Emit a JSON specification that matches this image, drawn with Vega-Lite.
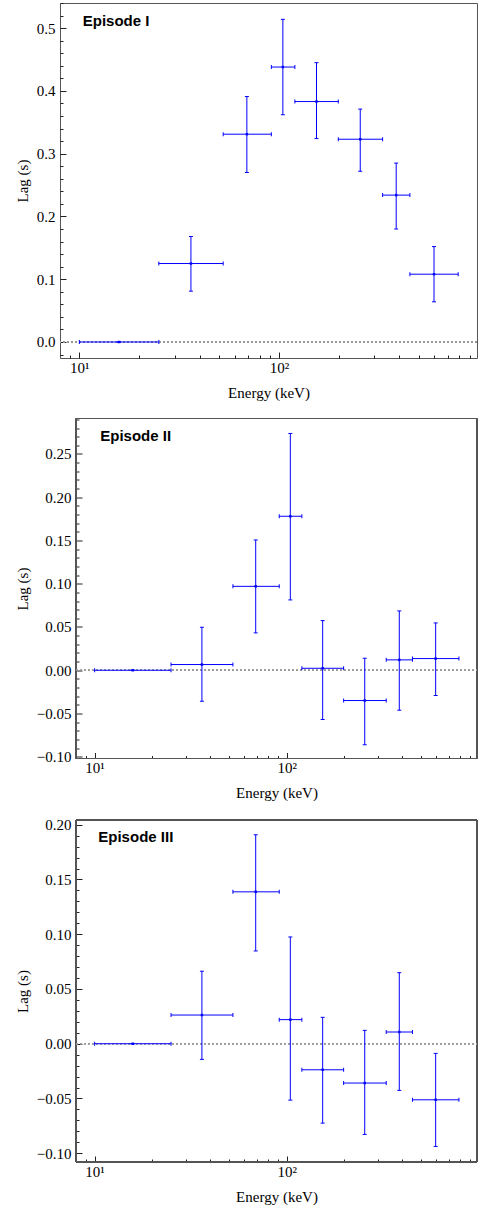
{
  "$schema": "https://vega.github.io/schema/vega-lite/v6.json",
  "padding": {"left": 14, "top": 2, "right": 3, "bottom": 8},
  "background": "white",
  "spacing": 16.5,
  "datasets": {
    "ep1": [
      {"E": 15.8, "Elo": 10, "Ehi": 25, "lag": 0, "lo": 0, "hi": 0},
      {"E": 36.2, "Elo": 25, "Ehi": 52.5, "lag": 0.125, "lo": 0.081, "hi": 0.168},
      {"E": 69, "Elo": 52.5, "Ehi": 91.5, "lag": 0.331, "lo": 0.27, "hi": 0.391},
      {"E": 104.5, "Elo": 91.5, "Ehi": 120, "lag": 0.438, "lo": 0.362, "hi": 0.514},
      {"E": 154, "Elo": 120, "Ehi": 198, "lag": 0.383, "lo": 0.324, "hi": 0.445},
      {"E": 255, "Elo": 198, "Ehi": 330, "lag": 0.323, "lo": 0.272, "hi": 0.371},
      {"E": 386, "Elo": 330, "Ehi": 452, "lag": 0.234, "lo": 0.18, "hi": 0.285},
      {"E": 597, "Elo": 452, "Ehi": 789, "lag": 0.108, "lo": 0.064, "hi": 0.152}
    ],
    "ep2": [
      {"E": 15.8, "Elo": 10, "Ehi": 25, "lag": 0, "lo": 0, "hi": 0},
      {"E": 36.2, "Elo": 25, "Ehi": 52.5, "lag": 0.0066, "lo": -0.0358, "hi": 0.0497},
      {"E": 69, "Elo": 52.5, "Ehi": 91.5, "lag": 0.097, "lo": 0.0432, "hi": 0.1506},
      {"E": 104.5, "Elo": 91.5, "Ehi": 120, "lag": 0.178, "lo": 0.0813, "hi": 0.2737},
      {"E": 154, "Elo": 120, "Ehi": 198, "lag": 0.0023, "lo": -0.0569, "hi": 0.0574},
      {"E": 255, "Elo": 198, "Ehi": 330, "lag": -0.035, "lo": -0.0861, "hi": 0.0139},
      {"E": 386, "Elo": 330, "Ehi": 452, "lag": 0.012, "lo": -0.0462, "hi": 0.0686},
      {"E": 597, "Elo": 452, "Ehi": 789, "lag": 0.0135, "lo": -0.0292, "hi": 0.0547}
    ],
    "ep3": [
      {"E": 15.8, "Elo": 10, "Ehi": 25, "lag": 0, "lo": 0, "hi": 0},
      {"E": 36.2, "Elo": 25, "Ehi": 52.5, "lag": 0.0262, "lo": -0.0143, "hi": 0.0662},
      {"E": 69, "Elo": 52.5, "Ehi": 91.5, "lag": 0.1387, "lo": 0.0847, "hi": 0.1908},
      {"E": 104.5, "Elo": 91.5, "Ehi": 120, "lag": 0.022, "lo": -0.0515, "hi": 0.0975},
      {"E": 154, "Elo": 120, "Ehi": 198, "lag": -0.0238, "lo": -0.0725, "hi": 0.0241},
      {"E": 255, "Elo": 198, "Ehi": 330, "lag": -0.0359, "lo": -0.0828, "hi": 0.0122},
      {"E": 386, "Elo": 330, "Ehi": 452, "lag": 0.0107, "lo": -0.0426, "hi": 0.0649},
      {"E": 597, "Elo": 452, "Ehi": 789, "lag": -0.0512, "lo": -0.0938, "hi": -0.0088}
    ]
  },
  "vconcat": [
    {
      "width": 417, "height": 355,
      "data": {"name": "ep1"},
      "layer": [
        {"mark": {"type": "rule", "color": "#999999", "strokeDash": [2, 2], "strokeWidth": 1}, "encoding": {"y": {"datum": 0, "type": "quantitative", "axis": null}}},
        {"mark": {"type": "rule", "color": "#0000ff", "strokeWidth": 1}, "encoding": {
          "x": {"field": "Elo", "type": "quantitative", "scale": {"type": "log", "domain": [8, 980], "nice": false}, "axis": {"orient": "bottom", "values": [10, 100], "labelExpr": "datum.value == 10 ? '10¹' : '10²'", "tickSize": -6, "labelPadding": 8, "title": "Energy (keV)", "titlePadding": 10}},
          "x2": {"field": "Ehi"},
          "y": {"field": "lag", "type": "quantitative", "scale": {"domain": [-0.0255, 0.54], "nice": false, "zero": false}, "axis": {"orient": "left", "values": [0, 0.1, 0.2, 0.3, 0.4, 0.5], "format": ".1f", "tickSize": -6, "labelPadding": 11, "title": "Lag (s)", "titlePadding": 6}}}},
        {"mark": {"type": "rule", "color": "#0000ff", "strokeWidth": 1}, "encoding": {
          "x": {"field": "E", "type": "quantitative", "axis": {"orient": "bottom", "values": [9, 20, 30, 40, 50, 60, 70, 80, 90, 200, 300, 400, 500, 600, 700, 800, 900], "tickSize": -3, "labels": false, "title": null}},
          "y": {"field": "lo", "type": "quantitative", "axis": {"orient": "left", "values": [-0.02, 0.02, 0.04, 0.06, 0.08, 0.12, 0.14, 0.16, 0.18, 0.22, 0.24, 0.26, 0.28, 0.32, 0.34, 0.36, 0.38, 0.42, 0.44, 0.46, 0.48, 0.52, 0.54], "tickSize": -3, "labels": false, "title": null}},
          "y2": {"field": "hi"}}},
        {"mark": {"type": "tick", "orient": "horizontal", "size": 4, "thickness": 1, "color": "#0000ff", "opacity": 1}, "encoding": {"x": {"field": "E", "type": "quantitative", "axis": null}, "y": {"field": "lo", "type": "quantitative", "axis": null}}},
        {"mark": {"type": "tick", "orient": "horizontal", "size": 4, "thickness": 1, "color": "#0000ff", "opacity": 1}, "encoding": {"x": {"field": "E", "type": "quantitative", "axis": null}, "y": {"field": "hi", "type": "quantitative", "axis": null}}},
        {"mark": {"type": "tick", "orient": "vertical", "size": 4, "thickness": 1, "color": "#0000ff", "opacity": 1}, "encoding": {"x": {"field": "Elo", "type": "quantitative", "axis": null}, "y": {"field": "lag", "type": "quantitative", "axis": null}}},
        {"mark": {"type": "tick", "orient": "vertical", "size": 4, "thickness": 1, "color": "#0000ff", "opacity": 1}, "encoding": {"x": {"field": "Ehi", "type": "quantitative", "axis": null}, "y": {"field": "lag", "type": "quantitative", "axis": null}}},
        {"mark": {"type": "point", "shape": "square", "size": 6, "filled": true, "color": "#0000ff", "opacity": 1}, "encoding": {"x": {"field": "E", "type": "quantitative", "axis": null}, "y": {"field": "lag", "type": "quantitative", "axis": null}}},
        {"data": {"values": [{"tx": 10.4, "ty": 0.511, "label": "Episode I"}]}, "mark": {"type": "text", "align": "left", "baseline": "middle", "font": "Liberation Sans", "fontWeight": "bold", "fontSize": 15, "color": "#000000"}, "encoding": {"x": {"field": "tx", "type": "quantitative", "axis": null}, "y": {"field": "ty", "type": "quantitative", "axis": null}, "text": {"field": "label"}}}
      ],
      "resolve": {"axis": {"x": "independent", "y": "independent"}}
    },
    {
      "width": 417, "height": 340,
      "view": {"stroke": null},
      "data": {"name": "ep2"},
      "layer": [
        {"mark": {"type": "rect", "fill": null, "filled": false, "stroke": "#555555", "strokeWidth": 1}, "encoding": {"x": {"datum": 8, "type": "quantitative", "axis": null}, "x2": {"datum": 980}, "y": {"datum": -0.102, "type": "quantitative", "axis": null}, "y2": {"datum": 0.291}}},
        {"mark": {"type": "rule", "color": "#999999", "strokeDash": [2, 2], "strokeWidth": 1}, "encoding": {"x": {"datum": 8, "type": "quantitative", "axis": null}, "x2": {"datum": 980}, "y": {"datum": 0, "type": "quantitative", "axis": null}}},
        {"mark": {"type": "rule", "color": "#0000ff", "strokeWidth": 1}, "encoding": {
          "x": {"field": "Elo", "type": "quantitative", "scale": {"type": "log", "domain": [6.603, 980], "nice": false}, "axis": {"orient": "bottom", "values": [10, 100], "labelExpr": "datum.value == 10 ? '10¹' : '10²'", "tickSize": -6, "labelPadding": 8, "title": "Energy (keV)", "titlePadding": 10, "titleX": 216.5}},
          "x2": {"field": "Ehi"},
          "y": {"field": "lag", "type": "quantitative", "scale": {"domain": [-0.102, 0.291], "nice": false, "zero": false}, "axis": {"orient": "left", "offset": -16, "values": [-0.1, -0.05, 0, 0.05, 0.1, 0.15, 0.2, 0.25], "format": ".2f", "tickSize": -6, "labelPadding": 11, "title": "Lag (s)", "titlePadding": 6}}}},
        {"mark": {"type": "rule", "color": "#0000ff", "strokeWidth": 1}, "encoding": {
          "x": {"field": "E", "type": "quantitative", "axis": {"orient": "bottom", "values": [9, 20, 30, 40, 50, 60, 70, 80, 90, 200, 300, 400, 500, 600, 700, 800, 900], "tickSize": -3, "labels": false, "title": null}},
          "y": {"field": "lo", "type": "quantitative", "axis": {"orient": "left", "offset": -16, "values": [-0.09, -0.08, -0.07, -0.06, -0.04, -0.03, -0.02, -0.01, 0.01, 0.02, 0.03, 0.04, 0.06, 0.07, 0.08, 0.09, 0.11, 0.12, 0.13, 0.14, 0.16, 0.17, 0.18, 0.19, 0.21, 0.22, 0.23, 0.24, 0.26, 0.27, 0.28, 0.29], "tickSize": -3, "labels": false, "title": null}},
          "y2": {"field": "hi"}}},
        {"mark": {"type": "tick", "orient": "horizontal", "size": 4, "thickness": 1, "color": "#0000ff", "opacity": 1}, "encoding": {"x": {"field": "E", "type": "quantitative", "axis": null}, "y": {"field": "lo", "type": "quantitative", "axis": null}}},
        {"mark": {"type": "tick", "orient": "horizontal", "size": 4, "thickness": 1, "color": "#0000ff", "opacity": 1}, "encoding": {"x": {"field": "E", "type": "quantitative", "axis": null}, "y": {"field": "hi", "type": "quantitative", "axis": null}}},
        {"mark": {"type": "tick", "orient": "vertical", "size": 4, "thickness": 1, "color": "#0000ff", "opacity": 1}, "encoding": {"x": {"field": "Elo", "type": "quantitative", "axis": null}, "y": {"field": "lag", "type": "quantitative", "axis": null}}},
        {"mark": {"type": "tick", "orient": "vertical", "size": 4, "thickness": 1, "color": "#0000ff", "opacity": 1}, "encoding": {"x": {"field": "Ehi", "type": "quantitative", "axis": null}, "y": {"field": "lag", "type": "quantitative", "axis": null}}},
        {"mark": {"type": "point", "shape": "square", "size": 6, "filled": true, "color": "#0000ff", "opacity": 1}, "encoding": {"x": {"field": "E", "type": "quantitative", "axis": null}, "y": {"field": "lag", "type": "quantitative", "axis": null}}},
        {"data": {"values": [{"tx": 10.7, "ty": 0.2703, "label": "Episode II"}]}, "mark": {"type": "text", "align": "left", "baseline": "middle", "font": "Liberation Sans", "fontWeight": "bold", "fontSize": 15, "color": "#000000"}, "encoding": {"x": {"field": "tx", "type": "quantitative", "axis": null}, "y": {"field": "ty", "type": "quantitative", "axis": null}, "text": {"field": "label"}}}
      ],
      "resolve": {"axis": {"x": "independent", "y": "independent"}}
    },
    {
      "width": 417, "height": 342,
      "view": {"stroke": null},
      "data": {"name": "ep3"},
      "layer": [
        {"mark": {"type": "rect", "fill": null, "filled": false, "stroke": "#555555", "strokeWidth": 1}, "encoding": {"x": {"datum": 8, "type": "quantitative", "axis": null}, "x2": {"datum": 980}, "y": {"datum": -0.108, "type": "quantitative", "axis": null}, "y2": {"datum": 0.2043}}},
        {"mark": {"type": "rule", "color": "#999999", "strokeDash": [2, 2], "strokeWidth": 1}, "encoding": {"x": {"datum": 8, "type": "quantitative", "axis": null}, "x2": {"datum": 980}, "y": {"datum": 0, "type": "quantitative", "axis": null}}},
        {"mark": {"type": "rule", "color": "#0000ff", "strokeWidth": 1}, "encoding": {
          "x": {"field": "Elo", "type": "quantitative", "scale": {"type": "log", "domain": [6.603, 980], "nice": false}, "axis": {"orient": "bottom", "values": [10, 100], "labelExpr": "datum.value == 10 ? '10¹' : '10²'", "tickSize": -6, "labelPadding": 8, "title": "Energy (keV)", "titlePadding": 10, "titleX": 216.5}},
          "x2": {"field": "Ehi"},
          "y": {"field": "lag", "type": "quantitative", "scale": {"domain": [-0.108, 0.2043], "nice": false, "zero": false}, "axis": {"orient": "left", "offset": -16, "values": [-0.1, -0.05, 0, 0.05, 0.1, 0.15, 0.2], "format": ".2f", "tickSize": -6, "labelPadding": 11, "title": "Lag (s)", "titlePadding": 6}}}},
        {"mark": {"type": "rule", "color": "#0000ff", "strokeWidth": 1}, "encoding": {
          "x": {"field": "E", "type": "quantitative", "axis": {"orient": "bottom", "values": [9, 20, 30, 40, 50, 60, 70, 80, 90, 200, 300, 400, 500, 600, 700, 800, 900], "tickSize": -3, "labels": false, "title": null}},
          "y": {"field": "lo", "type": "quantitative", "axis": {"orient": "left", "offset": -16, "values": [-0.09, -0.08, -0.07, -0.06, -0.04, -0.03, -0.02, -0.01, 0.01, 0.02, 0.03, 0.04, 0.06, 0.07, 0.08, 0.09, 0.11, 0.12, 0.13, 0.14, 0.16, 0.17, 0.18, 0.19], "tickSize": -3, "labels": false, "title": null}},
          "y2": {"field": "hi"}}},
        {"mark": {"type": "tick", "orient": "horizontal", "size": 4, "thickness": 1, "color": "#0000ff", "opacity": 1}, "encoding": {"x": {"field": "E", "type": "quantitative", "axis": null}, "y": {"field": "lo", "type": "quantitative", "axis": null}}},
        {"mark": {"type": "tick", "orient": "horizontal", "size": 4, "thickness": 1, "color": "#0000ff", "opacity": 1}, "encoding": {"x": {"field": "E", "type": "quantitative", "axis": null}, "y": {"field": "hi", "type": "quantitative", "axis": null}}},
        {"mark": {"type": "tick", "orient": "vertical", "size": 4, "thickness": 1, "color": "#0000ff", "opacity": 1}, "encoding": {"x": {"field": "Elo", "type": "quantitative", "axis": null}, "y": {"field": "lag", "type": "quantitative", "axis": null}}},
        {"mark": {"type": "tick", "orient": "vertical", "size": 4, "thickness": 1, "color": "#0000ff", "opacity": 1}, "encoding": {"x": {"field": "Ehi", "type": "quantitative", "axis": null}, "y": {"field": "lag", "type": "quantitative", "axis": null}}},
        {"mark": {"type": "point", "shape": "square", "size": 6, "filled": true, "color": "#0000ff", "opacity": 1}, "encoding": {"x": {"field": "E", "type": "quantitative", "axis": null}, "y": {"field": "lag", "type": "quantitative", "axis": null}}},
        {"data": {"values": [{"tx": 10.45, "ty": 0.1888, "label": "Episode III"}]}, "mark": {"type": "text", "align": "left", "baseline": "middle", "font": "Liberation Sans", "fontWeight": "bold", "fontSize": 15, "color": "#000000"}, "encoding": {"x": {"field": "tx", "type": "quantitative", "axis": null}, "y": {"field": "ty", "type": "quantitative", "axis": null}, "text": {"field": "label"}}}
      ],
      "resolve": {"axis": {"x": "independent", "y": "independent"}}
    }
  ],
  "config": {
    "view": {"stroke": "#555555", "strokeWidth": 1},
    "axis": {"labelFont": "Liberation Serif, Times New Roman, serif", "labelFontSize": 15, "labelColor": "#000000", "titleFont": "Liberation Serif, Times New Roman, serif", "titleFontSize": 15, "titleFontWeight": "normal", "titleColor": "#000000", "domain": false, "grid": false, "tickColor": "#222222", "tickWidth": 1}
  }
}
